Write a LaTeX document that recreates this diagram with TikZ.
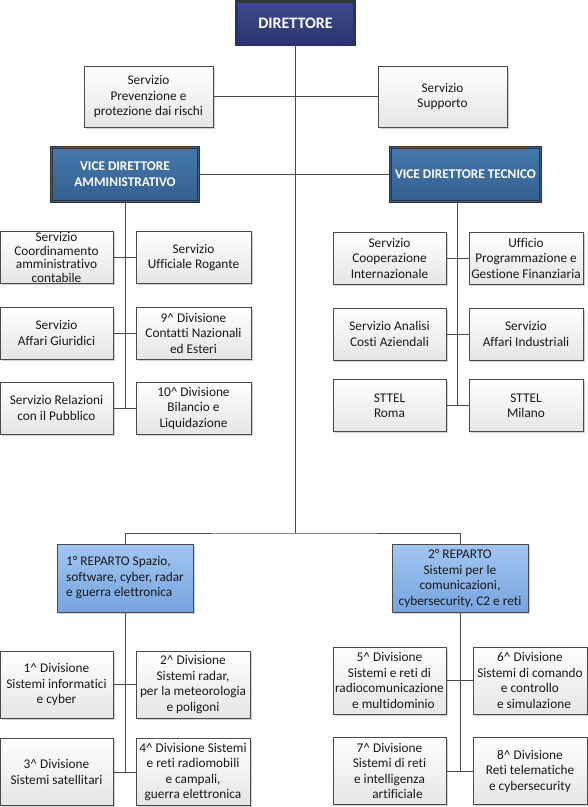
\documentclass[tikz,border=0pt]{standalone}
\usepackage{fontspec}
\setmainfont[Ligatures=CommonOff]{Carlito}
\usepackage{tikz}
\usetikzlibrary{shadows}
\definecolor{dirtop}{HTML}{3F4C8C}
\definecolor{dirbot}{HTML}{2B356D}
\definecolor{vicetop}{HTML}{4678AD}
\definecolor{vicebot}{HTML}{33608F}
\definecolor{reptop}{HTML}{A2C6F2}
\definecolor{repbot}{HTML}{76A4DE}
\definecolor{edge}{HTML}{4A4A4A}
\tikzstyle{link} = [draw=edge, line width=0.9pt]
\tikzstyle{unit} = [draw=edge, line width=0.8pt, top color=white, bottom color=black!10,
  align=center, inner sep=1pt, text=black!90,
  font=\fontsize{13.3}{15.5}\selectfont,
  drop shadow={shadow xshift=1.5pt, shadow yshift=-1.5pt, fill=black!40, opacity=0.45}]
\tikzstyle{mid} = [unit, minimum width=113pt, minimum height=52pt]
\tikzstyle{low} = [unit, minimum width=113pt, minimum height=67pt]
\tikzstyle{chief} = [unit, draw=black!80, line width=0.7pt, double distance=1.8pt, text=white]
\tikzstyle{vice} = [chief, double=vicebot, top color=vicetop, bottom color=vicebot, minimum height=54pt,
  font=\fontsize{13.3}{16}\selectfont\bfseries]
\tikzstyle{reparto} = [unit, top color=reptop, bottom color=repbot, minimum width=136pt, minimum height=68pt]

\begin{document}
\begin{tikzpicture}[x=1pt, y=-1pt]
  \useasboundingbox (0,0) rectangle (588,807);

  % Direzione
  \node[chief, double=dirbot, top color=dirtop, bottom color=dirbot, minimum width=118pt, minimum height=43pt,
    font=\fontsize{16}{18}\selectfont\bfseries] (dir) at (295.5,23) {DIRETTORE};
  \node[unit, minimum width=129pt, minimum height=61pt] (serv1) at (148.5,96.5) {Servizio\\Prevenzione e\\protezione dai rischi};
  \node[unit, minimum width=129pt, minimum height=61pt] (serv2) at (442.5,96.5) {Servizio\\Supporto};
  \node[vice, minimum width=147pt] (vda) at (125,174.5) {VICE DIRETTORE\\AMMINISTRATIVO};
  \node[vice, minimum width=150pt] (vdt) at (465.5,174.5) {VICE DIRETTORE TECNICO};

  % Area amministrativa
  \node[mid, font=\fontsize{13.3}{13.6}\selectfont] (aL1) at (56.5,257.5) {Servizio\\Coordinamento\\amministrativo\\contabile};
  \node[mid, minimum width=115pt] (aR1) at (193.5,257.5) {Servizio\\Ufficiale Rogante};
  \node[mid] (aL2) at (56.5,333) {Servizio\\Affari Giuridici};
  \node[mid, minimum width=115pt] (aR2) at (193.5,333) {9\textasciicircum{} Divisione\\Contatti Nazionali\\ed Esteri};
  \node[mid] (aL3) at (56.5,408) {Servizio Relazioni\\con il Pubblico};
  \node[mid, minimum width=115pt] (aR3) at (193.5,408) {10\textasciicircum{} Divisione\\Bilancio e\\Liquidazione};

  % Area tecnica
  \node[mid] (tL1) at (389.5,258) {Servizio\\Cooperazione\\Internazionale};
  \node[mid, minimum width=114pt] (tR1) at (526,258) {Ufficio\\Programmazione e\\Gestione Finanziaria};
  \node[mid] (tL2) at (389.5,334) {Servizio Analisi\\Costi Aziendali};
  \node[mid, minimum width=114pt] (tR2) at (526,334) {Servizio\\Affari Industriali};
  \node[mid] (tL3) at (389.5,405.5) {STTEL\\Roma};
  \node[mid, minimum width=114pt] (tR3) at (526,405.5) {STTEL\\Milano};

  % Reparti
  \node[reparto, align=left] (rep1) at (125,578) {1° REPARTO Spazio,\\software, cyber, radar\\e guerra elettronica};
  \node[reparto] (rep2) at (460,578.5) {2° REPARTO\\Sistemi per le\\comunicazioni,\\cybersecurity, C2 e reti};

  \node[low] (bL1) at (56.5,684.5) {1\textasciicircum{} Divisione\\Sistemi informatici\\e cyber};
  \node[low, minimum width=114pt] (bR1) at (193,684.5) {2\textasciicircum{} Divisione\\Sistemi radar,\\per la meteorologia\\e poligoni};
  \node[low] (bL2) at (56.5,772) {3\textasciicircum{} Divisione\\Sistemi satellitari};
  \node[low, minimum width=114pt] (bR2) at (193,772) {4\textasciicircum{} Divisione Sistemi\\e reti radiomobili\\e campali,\\guerra elettronica};
  \node[low] (cL1) at (389.5,680.5) {5\textasciicircum{} Divisione\\Sistemi e reti di\\radiocomunicazione\\\hspace{0.6em}e multidominio};
  \node[low, minimum width=114pt] (cR1) at (530,680.5) {6\textasciicircum{} Divisione\\Sistemi di comando\\e controllo\\\hspace{0.6em}e simulazione};
  \node[low] (cL2) at (389.5,771) {7\textasciicircum{} Divisione\\Sistemi di reti\\e intelligenza\\\hspace{1.2em}artificiale};
  \node[low, minimum width=114pt] (cR2) at (530,771) {8\textasciicircum{} Divisione\\Reti telematiche\\e cybersecurity};

  % Collegamenti
  \coordinate (split) at (295.5,533);
  \coordinate (tv) at (457.5,203);
  \draw[link] (dir.south) -- (split);
  \draw[link] (serv1.east) -- (serv2.west);
  \draw[link] (vda.east) -- (vdt.west);
  \draw[link] (rep1.north) |- (split) -| (rep2.north);
  \draw[link] (vda.south) -- (vda.south |- aL3.east);
  \draw[link] (aL1.east) -- (aR1.west);
  \draw[link] (aL2.east) -- (aR2.west);
  \draw[link] (aL3.east) -- (aR3.west);
  \draw[link] (tv |- vdt.south) -- (tv |- tL3.east);
  \draw[link] (tL1.east) -- (tR1.west);
  \draw[link] (tL2.east) -- (tR2.west);
  \draw[link] (tL3.east) -- (tR3.west);
  \draw[link] (rep1.south) -- (rep1.south |- bL2.east);
  \draw[link] (bL1.east) -- (bR1.west);
  \draw[link] (bL2.east) -- (bR2.west);
  \draw[link] (rep2.south) -- (rep2.south |- cL2.east);
  \draw[link] (cL1.east) -- (cR1.west);
  \draw[link] (cL2.east) -- (cR2.west);
\end{tikzpicture}
\end{document}
